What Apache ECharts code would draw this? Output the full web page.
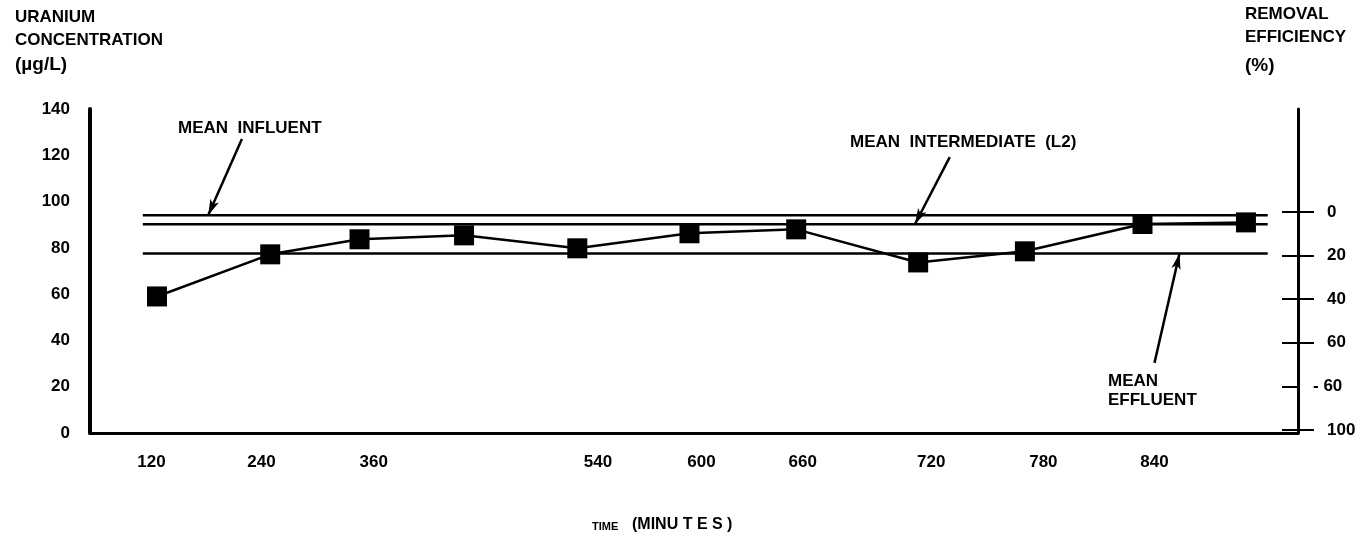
<!DOCTYPE html>
<html><head><meta charset="utf-8">
<script src="https://cdn.jsdelivr.net/npm/echarts@6/dist/echarts.min.js"></script>
<style>html,body{margin:0;padding:0;background:#fff}#c{width:1365px;height:543px}</style>
</head><body><div id="c"></div>
<script>
// ---- data ----
const timeLabels = ['120','240','360','540','600','660','720','780','840'];
const labelSlots = [-0.05, 0.96, 1.99, 4.05, 5.0, 5.93, 7.11, 8.14, 9.16];
const pointSlots = [0, 1.04, 1.86, 2.82, 3.86, 4.89, 5.87, 6.99, 7.97, 9.05, 10];
const uranium    = [59.0, 77.2, 83.7, 85.4, 79.8, 86.3, 88.0, 73.7, 78.5, 90.3, 91.0];
const meanInfluent = 94.1;
const meanIntermediate = 90.2;
const meanEffluent = 77.6;
const meanSpan = [-0.13, 10.2];
const effTicks  = [0, 20, 40, 60, 80, 100];
const effLabels = ['0', '20', '40', '60', '- 60', '100'];
const arrowInfluent     = [[0.78, 127], [0.47, 94.1]];
const arrowIntermediate = [[7.28, 119.2], [6.96, 90.2]];
const arrowEffluent     = [[9.16, 30.3], [9.39, 77.6]];

const FONT = 'Liberation Sans, Arial, sans-serif';
const chart = echarts.init(document.getElementById('c'), null, {renderer: 'canvas'});
const lbl = {color: '#000', fontFamily: FONT, fontWeight: 'bold', fontSize: 17};
const effScale = {type: 'value', inverse: true, min: -47.2, max: 101.4, position: 'right', splitLine: {show: false}};
function txt(x, y, s, size) {
  return {type: 'text', left: x, top: y, style: {text: s, fill: '#000', font: 'bold ' + (size || 17) + 'px ' + FONT}};
}
chart.setOption({
  animation: false,
  backgroundColor: '#fff',
  grid: {left: 90, right: 1365 - 1298, top: 109, bottom: 543 - 433, outerBoundsMode: 'none'},
  xAxis: {
    type: 'value', min: -0.615, max: 10.478,
    axisLine: {onZero: false, lineStyle: {color: '#000', width: 3}},
    axisTick: {show: false}, splitLine: {show: false},
    axisLabel: Object.assign({}, lbl, {
      margin: 21, customValues: labelSlots,
      formatter: v => { let b = 0; labelSlots.forEach((s, i) => { if (Math.abs(s - v) < Math.abs(labelSlots[b] - v)) b = i; }); return timeLabels[b]; }
    })
  },
  yAxis: [
    {type: 'value', min: 0, max: 140, interval: 20, position: 'left',
     axisLine: {show: true, onZero: false, lineStyle: {color: '#000', width: 4}},
     axisTick: {show: false}, splitLine: {show: false},
     axisLabel: Object.assign({}, lbl, {margin: 20})},
    Object.assign({}, effScale, {
     axisLine: {show: true, onZero: false, lineStyle: {color: '#000', width: 3}},
     axisTick: {show: true, length: 16, customValues: [0, 20, 40, 60, 100], lineStyle: {color: '#000', width: 2}},
     axisLabel: Object.assign({}, lbl, {margin: 29, customValues: [0, 20, 40, 60, 100],
       formatter: v => effLabels[effTicks.indexOf(v)]})}),
    Object.assign({}, effScale, {
     axisLine: {show: false, onZero: false},
     axisTick: {show: true, inside: true, length: 16, customValues: effTicks, lineStyle: {color: '#000', width: 2}},
     axisLabel: {show: false}}),
    Object.assign({}, effScale, {
     axisLine: {show: false, onZero: false},
     axisTick: {show: false},
     axisLabel: Object.assign({}, lbl, {margin: 15, customValues: [80],
       formatter: v => effLabels[effTicks.indexOf(v)]})})
  ],
  series: [
    {type: 'line', name: 'influent', data: [[meanSpan[0], meanInfluent], [meanSpan[1], meanInfluent]],
     symbol: 'none', lineStyle: {color: '#000', width: 2.5}, silent: true},
    {type: 'line', name: 'intermediate', data: [[meanSpan[0], meanIntermediate], [meanSpan[1], meanIntermediate]],
     symbol: 'none', lineStyle: {color: '#000', width: 2.5}, silent: true},
    {type: 'line', name: 'effluent', data: [[meanSpan[0], meanEffluent], [meanSpan[1], meanEffluent]],
     symbol: 'none', lineStyle: {color: '#000', width: 2.5}, silent: true,
     markLine: {silent: true, symbol: ['none', 'arrow'], symbolSize: [7, 16],
       lineStyle: {color: '#000', width: 2.5, type: 'solid'}, label: {show: false},
       data: [
         [{coord: arrowInfluent[0]}, {coord: arrowInfluent[1]}],
         [{coord: arrowIntermediate[0]}, {coord: arrowIntermediate[1]}],
         [{coord: arrowEffluent[0]}, {coord: arrowEffluent[1]}]
       ]}},
    {type: 'line', name: 'uranium', data: pointSlots.map((x, i) => [x, uranium[i]]),
     symbol: 'rect', symbolSize: 20, itemStyle: {color: '#000'},
     lineStyle: {color: '#000', width: 2.5}, z: 5}
  ],
  graphic: [
    txt(15, 9, 'URANIUM'),
    txt(15, 32, 'CONCENTRATION'),
    txt(15, 55, '(µg/L)', 19),
    txt(1245, 6, 'REMOVAL'),
    txt(1245, 29, 'EFFICIENCY'),
    txt(1245, 56, '(%)', 19),
    txt(178, 120, 'MEAN  INFLUENT'),
    txt(850, 134, 'MEAN  INTERMEDIATE  (L2)'),
    txt(1108, 373, 'MEAN'),
    txt(1108, 392, 'EFFLUENT'),
    txt(592, 521, 'TIME', 11),
    txt(632, 517, '(MINU T E S )', 16)
  ]
});
</script></body></html>
